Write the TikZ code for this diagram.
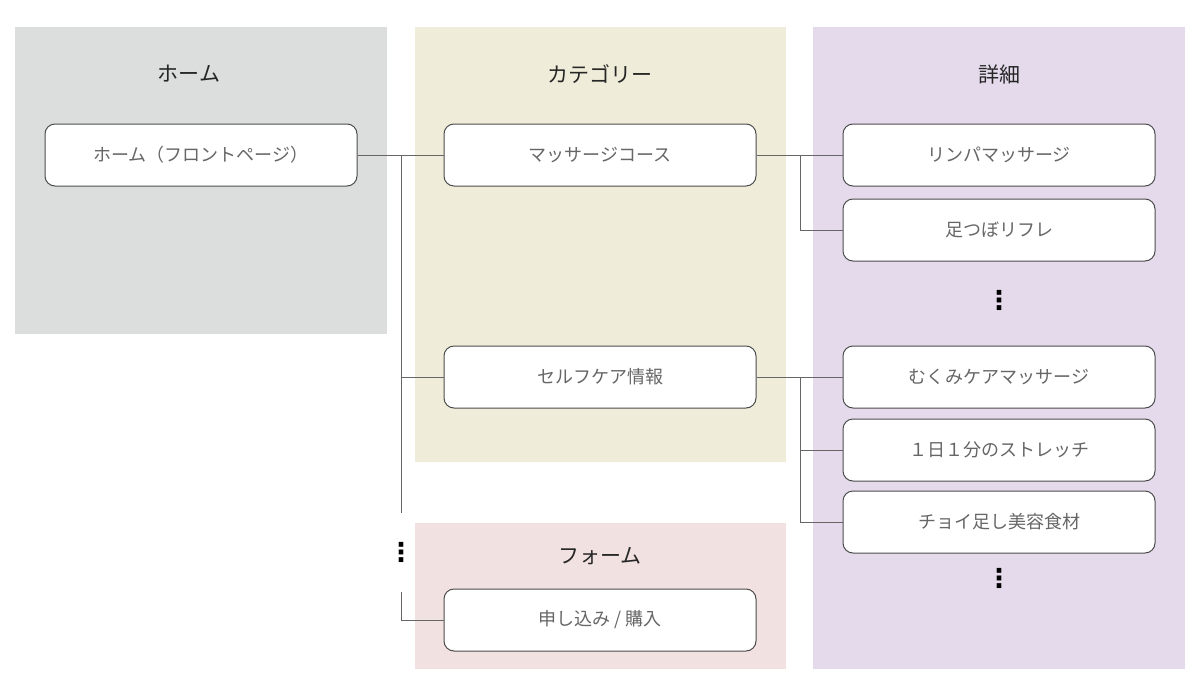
\documentclass[tikz,border=0pt]{standalone}
\usepackage{fontspec}
\setmainfont{Noto Sans CJK JP}
\newfontfamily\djv{DejaVu Sans}
\begin{document}
\begin{tikzpicture}[x=0.5pt,y=-0.5pt,
  box/.style={draw=black!70,line width=0.5pt,rounded corners=5pt,fill=white,minimum width=156pt,minimum height=31pt,inner sep=0pt,text=black!60,font=\fontsize{9}{9}\selectfont},
  ttl/.style={text=black!85,font=\fontsize{10.5}{10.5}\selectfont},
  dots/.style={font=\djv\fontsize{13}{13}\selectfont\bfseries},
  ln/.style={draw=black!60,line width=0.5pt}]
\useasboundingbox (0,0) rectangle (1200,686);
\fill[fill={rgb,255:red,220;green,221;blue,221}] (15,27) rectangle (387,334);
\fill[fill={rgb,255:red,239;green,237;blue,217}] (415,27) rectangle (786,462);
\fill[fill={rgb,255:red,228;green,218;blue,236}] (813,27) rectangle (1185,669);
\fill[fill={rgb,255:red,242;green,225;blue,225}] (415,523) rectangle (786,669);
\node[ttl] (t1) at (189,74) {ホーム};
\node[ttl] (t2) at (600,74) {カテゴリー};
\node[ttl] (t3) at (999,74) {詳細};
\node[ttl] (t4) at (600,556) {フォーム};
\node[box] (home) at (201,155) {ホーム（フロントページ）};
\node[box] (mc) at (600,155) {マッサージコース};
\node[box] (sc) at (600,377) {セルフケア情報};
\node[box] (form) at (600,620) {申し込み / 購入};
\node[box] (d1) at (999,155) {リンパマッサージ};
\node[box] (d2) at (999,230) {足つぼリフレ};
\node[box] (d3) at (999,377) {むくみケアマッサージ};
\node[box] (d4) at (999,450) {１日１分のストレッチ};
\node[box] (d5) at (999,522) {チョイ足し美容食材};
\node[dots] (v1) at (999,300) {⋮};
\node[dots] (v2) at (999,578) {⋮};
\node[dots] (v3) at (401,552) {⋮};
\coordinate (a1) at (401,155);
\coordinate (a2) at (401,513);
\coordinate (a3) at (401,592);
\coordinate (b1) at (800,155);
\coordinate (b2) at (800,377);
\draw[ln] (home.east) -- (mc.west);
\draw[ln] (a1) -- (a2);
\draw[ln] (a1 |- sc.west) -- (sc.west);
\draw[ln] (a3) |- (form.west);
\draw[ln] (mc.east) -- (d1.west);
\draw[ln] (b1) |- (d2.west);
\draw[ln] (sc.east) -- (d3.west);
\draw[ln] (b2) |- (d5.west);
\draw[ln] (b2 |- d4.west) -- (d4.west);
\end{tikzpicture}
\end{document}
